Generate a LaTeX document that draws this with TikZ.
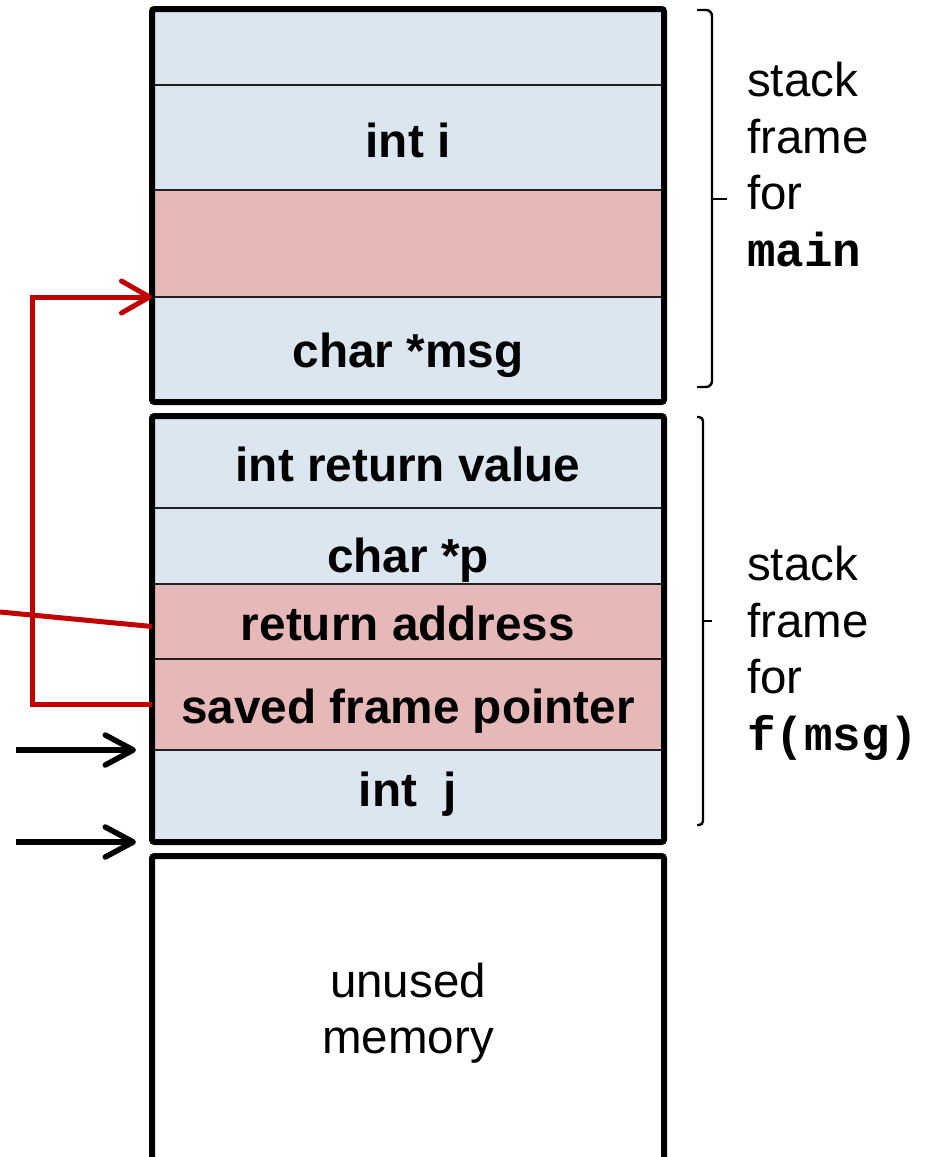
\documentclass[tikz,border=0pt]{standalone}
\usepackage{fontspec}
\setmainfont{Liberation Sans}
\setmonofont{Liberation Mono}
\usetikzlibrary{arrows.meta}
\definecolor{cellblue}{HTML}{DCE6F1}
\definecolor{cellpink}{HTML}{E6B9B8}
\definecolor{cellline}{HTML}{1F2020}
\definecolor{ptrred}{HTML}{C00000}
\begin{document}
\begin{tikzpicture}[x=1pt,y=-1pt,
  cell/.style={draw=cellline, line width=1.8pt, minimum width=512pt, inner sep=0pt, outer sep=0pt},
  bluecell/.style={cell, fill=cellblue},
  pinkcell/.style={cell, fill=cellpink},
  frameline/.style={draw=black, line width=6pt, rounded corners=2.5pt},
  lbl/.style={anchor=base, inner sep=0pt, font=\fontsize{47.7}{56.5}\selectfont\bfseries},
  side/.style={anchor=north west, inner sep=0pt, align=left, font=\fontsize{47.5}{56.5}\selectfont},
  plain/.style={anchor=north, inner sep=0pt, align=center, font=\fontsize{47.5}{56}\selectfont},
  bracket/.style={draw=black, line width=2.4pt},
  ptrline/.style={draw=ptrred, line width=5pt},
  ptrarrow/.style={ptrline, -{Straight Barb[length=28pt,width=32pt,round]}},
  sparrow/.style={draw=black, line width=5.5pt, -{Straight Barb[length=28pt,width=30pt,round]}, shorten >=16pt}
]
\useasboundingbox (0,0) rectangle (924,1157);
\fill[white] (0,0) rectangle (924,1157);

% stack frame for main
\node[bluecell, minimum height=76pt]  (m1) at (408,47)    {};
\node[bluecell, minimum height=105pt] (m2) at (408,137.5) {};
\node[pinkcell, minimum height=107pt] (m3) at (408,243.5) {};
\node[bluecell, minimum height=105pt] (m4) at (408,349.5) {};
\draw[frameline] (m1.north west) rectangle (m4.south east);

% stack frame for f(msg)
\node[bluecell, minimum height=92pt] (f1) at (408,462)   {};
\node[bluecell, minimum height=76pt] (f2) at (408,546)   {};
\node[pinkcell, minimum height=75pt] (f3) at (408,621.5) {};
\node[pinkcell, minimum height=91pt] (f4) at (408,704.5) {};
\node[bluecell, minimum height=92pt] (f5) at (408,796)   {};
\draw[frameline] (f1.north west) rectangle (f5.south east);

% unused memory
\draw[frameline] (152,1170) -- (152,856) -- (664,856) -- (664,1170);
\node[plain] (unused) at (408,963) {unused\\memory};

% cell labels
\node[lbl] (tm2) at (408,157) {int i};
\node[lbl] (tm4) at (408,367) {char *msg};
\node[lbl] (tf1) at (408,481) {int return value};
\node[lbl] (tf2) at (408,572) {char *p};
\node[lbl] (tf3) at (408,640) {return address};
\node[lbl] (tf4) at (408,723) {saved frame pointer};
\node[lbl] (tf5) at (408,806) {int\ \ j};

% brackets
\draw[bracket, rounded corners=6pt] (697,10) -- (712,10) -- (712,387) -- (697,387);
\draw[bracket] (712,199) -- (727,199);
\draw[bracket, rounded corners=4pt] (697,417) -- (703,417) -- (703,825) -- (697,825);
\draw[bracket] (703,621) -- (712,621);

\node[side] (smain) at (747,62) {stack\\frame\\for\\{\ttfamily\bfseries main}};
\node[side] (sf) at (747,546) {stack\\frame\\for\\{\ttfamily\bfseries f(msg)}};

% red pointers
\coordinate (redx) at (32,0);
\coordinate (raout) at (0,612);
\draw[ptrarrow] (f4.west) -| (redx |- m4.north west) -- (m4.north west);
\draw[ptrline] (raout) -- ([yshift=-5pt]f3.west);

% black arrows
\coordinate (sp) at (16,750);
\coordinate (fp) at (16,842);
\draw[sparrow] (sp) -- (f5.north west);
\draw[sparrow] (fp) -- (f5.south west);
\end{tikzpicture}
\end{document}
